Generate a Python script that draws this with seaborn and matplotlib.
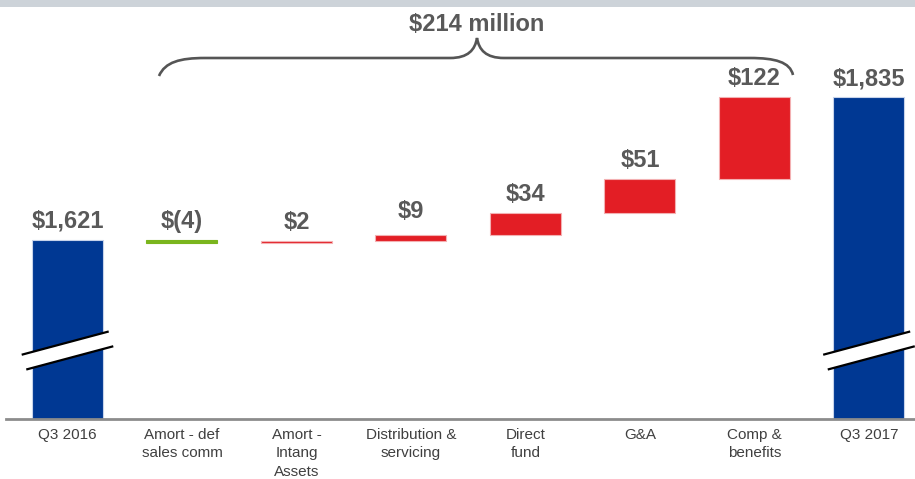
import matplotlib
matplotlib.use("Agg")
import matplotlib.pyplot as plt
import seaborn as sns
import pandas as pd
import numpy as np
from matplotlib.path import Path
from matplotlib.patches import PathPatch, Polygon, Rectangle

# ---------------- data ----------------
categories = ["Q3 2016", "Amort - def\nsales comm", "Amort -\nIntang\nAssets",
              "Distribution &\nservicing", "Direct\nfund", "G&A", "Comp &\nbenefits", "Q3 2017"]
start_total = 1621
changes = [-4, 2, 9, 34, 51, 122]
end_total = 1835
value_labels = ["$1,621", "$(4)", "$2", "$9", "$34", "$51", "$122", "$1,835"]
bridge_label = "$214 million"

# ---------------- waterfall geometry from data ----------------
bottoms, heights = [0], [start_total]
running = start_total
for c in changes:
    bottoms.append(running)
    heights.append(c)
    running += c
bottoms.append(0)
heights.append(end_total)
tops = [b + h for b, h in zip(bottoms, heights)]

BLUE = "#003893"
RED = "#e31e25"
GREEN = "#7ab51d"
colors = [BLUE] + [GREEN if c < 0 else RED for c in changes] + [BLUE]

df = pd.DataFrame({"category": categories, "height": heights})

W, H = 915, 479
fig = plt.figure(figsize=(W / 100, H / 100), dpi=100)
sns.set_style("white")
plt.rcParams["font.family"] = ["Liberation Sans", "DejaVu Sans"]

ax_bottom_px, ax_top_px = 418.5, 8
ax = fig.add_axes([6 / W, (H - ax_bottom_px) / H, 1 - 6 / W, (ax_bottom_px - ax_top_px) / H])

sns.barplot(data=df, x="category", y="height", bottom=bottoms, width=0.62,
            color=BLUE, ax=ax, errorbar=None, linewidth=0.8, edgecolor="white")
for p, col in zip(ax.patches, colors):
    p.set_facecolor(col)
    p.set_edgecolor("#f3b0b2" if col == RED else ("#c7d3ea" if col == BLUE else col))

ymin = 1353
ax.set_ylim(ymin, ymin + (ax_bottom_px - ax_top_px) * 1.5)
ax.set_xlim(-0.537, 7.402)

# axes styling
for s in ["top", "right", "left"]:
    ax.spines[s].set_visible(False)
ax.spines["bottom"].set_color("#8c8c8c")
ax.spines["bottom"].set_linewidth(2)
ax.set_yticks([])
ax.set_xlabel("")
ax.set_ylabel("")
ax.tick_params(axis="x", length=0, pad=7)
for t in ax.get_xticklabels():
    t.set_fontsize(11)
    t.set_color("#404040")
    t.set_linespacing(1.38)
    t.set_va("top")

# value labels
for i, (lab, b, tp) in enumerate(zip(value_labels, bottoms, tops)):
    y = max(b, tp)
    off = 9 if i == 3 else 5
    ax.annotate(lab, (i, y), xytext=(0, off), textcoords="offset points",
                ha="center", va="bottom", fontsize=17, fontweight="bold", color="#595959")

# axis-break marks on the total bars
brk_y = 1455
half = 0.38
slope = 45.9
gap = 12
for xi in (0, len(categories) - 1):
    up = [(xi - half - 0.02, brk_y + gap - slope * (half + 0.02)), (xi + half - 0.02, brk_y + gap + slope * (half - 0.02))]
    lo = [(xi - half + 0.02, brk_y - gap - slope * (half - 0.02)), (xi + half + 0.02, brk_y - gap + slope * (half + 0.02))]
    poly = Polygon([up[0], up[1], lo[1], lo[0]], closed=True, facecolor="white", edgecolor="none", zorder=5)
    ax.add_patch(poly)
    ax.plot([up[0][0], up[1][0]], [up[0][1], up[1][1]], color="black", lw=1.6, zorder=6, solid_capstyle="butt")
    ax.plot([lo[0][0], lo[1][0]], [lo[0][1], lo[1][1]], color="black", lw=1.6, zorder=6, solid_capstyle="butt")

# top grey band
fig.patches.append(Rectangle((0, 1 - 7 / H), 1, 7 / H, transform=fig.transFigure,
                             facecolor="#cdd3d9", edgecolor="none", zorder=0))

# brace (figure pixel coords, origin top-left)
pts = [(159, 76), (165, 62), (180, 58), (205, 58),
       (450, 58),
       (468, 58), (475, 50), (477, 38),
       (479, 50), (486, 58), (504, 58),
       (750, 58),
       (775, 58), (790, 62), (793, 75)]
codes = [Path.MOVETO, Path.CURVE4, Path.CURVE4, Path.CURVE4,
         Path.LINETO,
         Path.CURVE4, Path.CURVE4, Path.CURVE4,
         Path.CURVE4, Path.CURVE4, Path.CURVE4,
         Path.LINETO,
         Path.CURVE4, Path.CURVE4, Path.CURVE4]
pts_disp = [(x, H - y) for x, y in pts]
brace = PathPatch(Path(pts_disp, codes), facecolor="none", edgecolor="#555555", lw=1.9,
                  transform=None, zorder=3)
fig.patches.append(brace)

fig.text(477 / W, 1 - 31 / H, bridge_label, ha="center", va="baseline",
         fontsize=17, fontweight="bold", color="#595959")

fig.savefig("out.png", dpi=100)
